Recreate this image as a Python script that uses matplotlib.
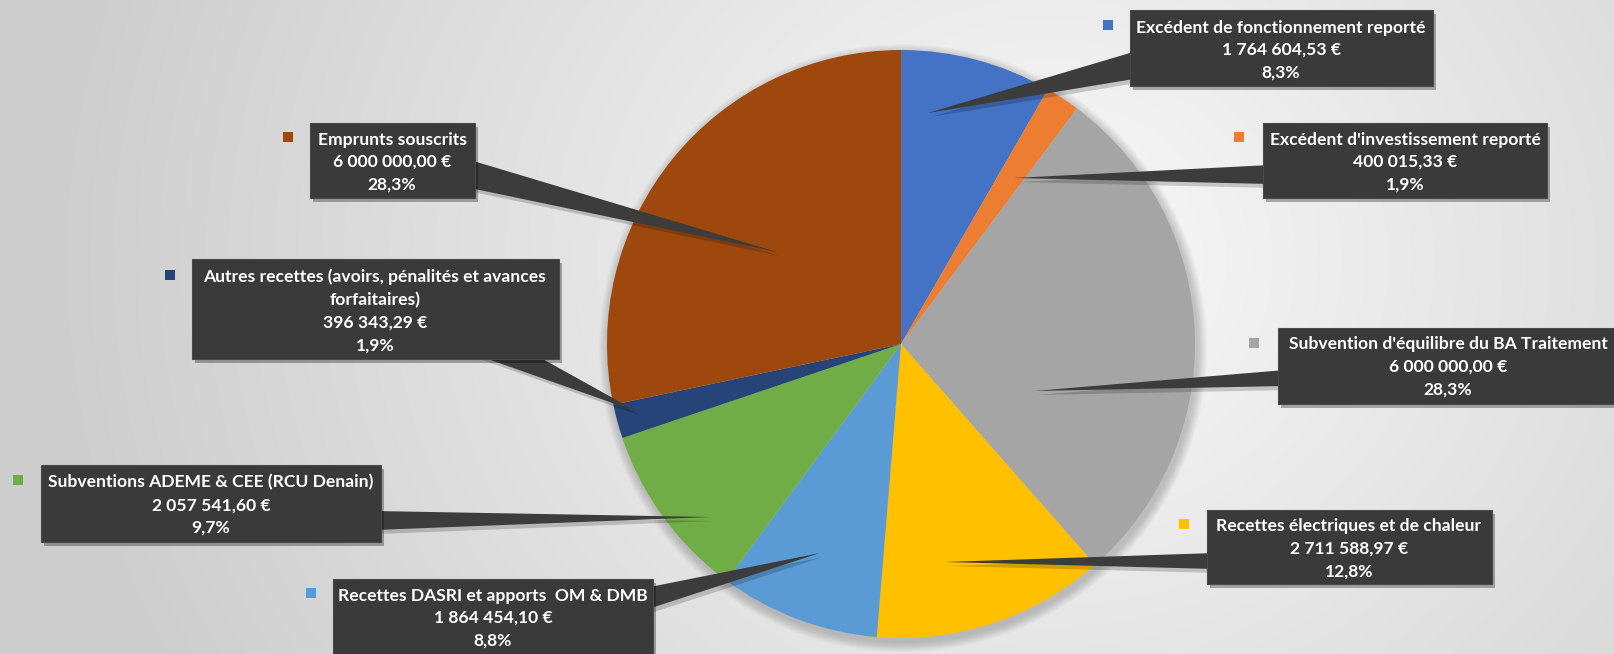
import numpy as np
import matplotlib
matplotlib.use("Agg")
import matplotlib.pyplot as plt
from matplotlib.patches import Rectangle, Polygon, Circle

# Données du graphique
labels = [
    "Excédent de fonctionnement reporté",
    "Excédent d'investissement reporté",
    "Subvention d'équilibre du BA Traitement",
    "Recettes électriques et de chaleur",
    "Recettes DASRI et apports  OM & DMB",
    "Subventions ADEME & CEE (RCU Denain)",
    "Autres recettes (avoirs, pénalités et avances\nforfaitaires)",
    "Emprunts souscrits",
]
values = [1764604.53, 400015.33, 6000000.00, 2711588.97,
          1864454.10, 2057541.60, 396343.29, 6000000.00]
colors = ["#4472C4", "#ED7D31", "#A5A5A5", "#FFC000",
          "#5B9BD5", "#70AD47", "#264478", "#9E480E"]

W, H = 1614, 654

# Mise en page des étiquettes (pixels, origine en haut à gauche)
# boîte (x0, x1, y0, y1), pointe du repère, base du repère (2 points), carré de légende
boxes = [(1130, 1433, 10, 86), (1263, 1547, 123, 198), (1278, 1640, 328, 404),
         (1207, 1492, 510, 584), (333, 653, 579, 670), (41, 381, 465, 542),
         (192, 559, 259, 359), (310, 475, 123, 198)]
tips = [(928, 113), (1014, 178), (1034, 391), (945, 562),
        (820, 553), (710, 517), (638, 412), (777, 252)]
bases = [((1140, 50), (1140, 78)), ((1270, 165), (1270, 184)),
         ((1285, 370), (1285, 386)), ((1215, 553), (1215, 569)),
         ((645, 588), (645, 610)), ((375, 511), (375, 530)),
         ((468, 352), (530, 352)), ((470, 160), (470, 188))]
markers = [(1108, 25), (1239, 137), (1254, 343), (1184, 524),
           (311, 593), (18, 480), (170, 275), (288, 137)]
# centre (x, y) du bloc de texte
text_pos = [(1281, 50), (1405, 162), (1448, 367), (1349, 549),
            (493, 618), (211, 505), (375, 311), (392, 162)]


def fy(y):
    return H - y


def fmt_euro(v):
    s = f"{v:,.2f}".replace(",", " ").replace(".", ",")
    return s + " €"


fig = plt.figure(figsize=(W / 100, H / 100), dpi=100)
ax = fig.add_axes([0, 0, 1, 1])

# Fond en dégradé radial
yy, xx = np.mgrid[0:H, 0:W]
d = np.sqrt((xx - 1050) ** 2 + ((yy - 260) / 0.9) ** 2)
g = np.clip(d / 1000, 0, 1)
bg = 0.975 - 0.17 * g
ax.imshow(np.dstack([bg, bg, bg]), extent=(0, W, 0, H), origin="upper", zorder=0)

cx, cy, R = 901, fy(344), 294

# Ombre douce du camembert
for k in range(10):
    ax.add_patch(Circle((cx + 2, cy - 4), R + 10 - k, color="black",
                        alpha=0.018, lw=0, zorder=1))

wedges, _ = ax.pie(values, colors=colors, startangle=90, counterclock=False,
                   center=(cx, cy), radius=R, wedgeprops=dict(linewidth=0), frame=True)
for w in wedges:
    w.set_zorder(2)
ax.set_xlim(0, W)
ax.set_ylim(0, H)
ax.set_aspect("equal")
ax.axis("off")

total = sum(values)
for i, lab in enumerate(labels):
    x0, x1, y0, y1 = boxes[i]
    # repère
    (bx1, by1), (bx2, by2) = bases[i]
    tx, ty = tips[i]
    ax.add_patch(Polygon([(tx + 3, fy(ty) - 4), (bx1 + 3, fy(by1) - 4), (bx2 + 3, fy(by2) - 4)],
                         closed=True, color="black", alpha=0.18, lw=0, zorder=3))
    ax.add_patch(Polygon([(tx, fy(ty)), (bx1, fy(by1)), (bx2, fy(by2))],
                         closed=True, color="#3c3c3c", lw=0, zorder=4))
    # ombre + boîte
    ax.add_patch(Rectangle((x0 + 3, fy(y1) - 4), x1 - x0, y1 - y0,
                           color="black", alpha=0.3, lw=0, zorder=5))
    ax.add_patch(Rectangle((x0, fy(y1)), x1 - x0, y1 - y0,
                           facecolor="#3a3a3a", edgecolor="#4a4a4a", lw=0.8, zorder=6))
    pct = f"{100 * values[i] / total:.1f}%".replace(".", ",")
    txt = f"{lab}\n{fmt_euro(values[i])}\n{pct}"
    tpx, tpy = text_pos[i]
    ax.text(tpx, fy(tpy), txt, ha="center", va="center", ma="center",
            color="white", fontsize=12.6, fontweight="bold", family="Lato",
            linespacing=1.5, zorder=7)
    # carré de légende
    mx, my = markers[i]
    ax.add_patch(Rectangle((mx - 5, fy(my) - 5), 10, 10, color=colors[i], lw=0, zorder=7))

fig.savefig("out.png", dpi=100)
